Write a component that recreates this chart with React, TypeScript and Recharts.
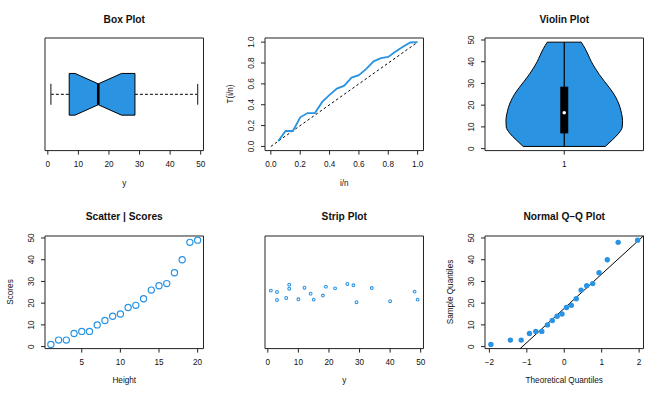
import {
  ComposedChart,
  ScatterChart,
  Scatter,
  Area,
  Line,
  XAxis,
  YAxis,
  ReferenceLine,
  ReferenceArea,
  ReferenceDot,
} from "recharts";

// sample of 20 scores (sorted), shared by every panel
const heights = [1, 2, 3, 4, 5, 6, 7, 8, 9, 10, 11, 12, 13, 14, 15, 16, 17, 18, 19, 20];
const scores = [1, 3, 3, 6, 7, 7, 10, 12, 14, 15, 18, 19, 22, 26, 28, 29, 34, 40, 48, 49];

// box plot: min, lower hinge, median, upper hinge, max + notch ends
const boxFive = [1, 7, 16.5, 28.5, 49];
const boxNotch = [8.9, 24.1];

// scaled TTT curve
const tttX = [0.05, 0.1, 0.15, 0.2, 0.25, 0.3, 0.35, 0.4, 0.45, 0.5, 0.55, 0.6, 0.65, 0.7, 0.75, 0.8, 0.85, 0.9, 0.95, 1.0];
const tttY = [0.051, 0.148, 0.148, 0.279, 0.32, 0.32, 0.427, 0.494, 0.555, 0.583, 0.66, 0.683, 0.744, 0.816, 0.847, 0.859, 0.91, 0.957, 0.997, 1.0];

// violin density (half width around x = 1)
const violinY = [1, 4, 7, 10, 13, 16, 19, 22, 25, 28, 31, 34, 37, 40, 43, 46, 49];
const violinHalf = [0.259, 0.303, 0.343, 0.366, 0.368, 0.362, 0.352, 0.336, 0.314, 0.285, 0.253, 0.222, 0.195, 0.171, 0.152, 0.132, 0.107];

// strip plot vertical jitter
const stripJitter = [0.515, 0.503, 0.432, 0.45, 0.568, 0.532, 0.438, 0.541, 0.488, 0.435, 0.471, 0.55, 0.535, 0.574, 0.562, 0.412, 0.538, 0.421, 0.506, 0.435];

// normal quantiles and qqline (intercept, slope)
const qqTheoretical = [-1.96, -1.44, -1.15, -0.93, -0.76, -0.6, -0.45, -0.32, -0.19, -0.06, 0.06, 0.19, 0.32, 0.45, 0.6, 0.76, 0.93, 1.15, 1.44, 1.96];
const qqLine = [17.625, 15.75];

const ticks50 = [0, 10, 20, 30, 40, 50];
const ticksUnit = [0, 0.2, 0.4, 0.6, 0.8, 1];
const ticksHeight = [5, 10, 15, 20];
const ticksQQ = [-2, -1, 0, 1, 2];

const BLUE = "#2a93e2";
const INK = "#222";
const FONT = '"Liberation Sans", Arial, Helvetica, sans-serif';

const COLS = [45, 265, 485];
const ROWS = [38, 235.7];
const FW = 158.5;
const FH = 112.6;
const ML = 45;
const MT = 38;
const MR = 12;
const MB = 40;
const CW = ML + FW + MR;
const CH = MT + FH + MB;

const D50: [number, number] = [-0.92, 50.92];

const scatterData = heights.map((x, i) => ({ x, y: scores[i] }));
const stripData = scores.map((x, i) => ({ x, y: stripJitter[i] }));
const qqData = qqTheoretical.map((x, i) => ({ x, y: scores[i] }));
const tttData = tttX.map((x, i) => ({ x, y: tttY[i] }));
const violinData = violinY.map((y, i) => ({ y, band: [1 - violinHalf[i], 1 + violinHalf[i]] }));
const BOX_HALF = 0.2;
const boxData = [
  { x: boxFive[1], band: [1 - BOX_HALF, 1 + BOX_HALF] },
  { x: boxNotch[0], band: [1 - BOX_HALF, 1 + BOX_HALF] },
  { x: boxFive[2], band: [1 - BOX_HALF / 2, 1 + BOX_HALF / 2] },
  { x: boxNotch[1], band: [1 - BOX_HALF, 1 + BOX_HALF] },
  { x: boxFive[3], band: [1 - BOX_HALF, 1 + BOX_HALF] },
];

const fmtMinus = (v: number) => (v < 0 ? "\u2212" + Math.abs(v) : String(v));

const tickStyle = { fontSize: 8.2, fill: "#111", fontFamily: FONT };

const xAxisBase = {
  type: "number" as const,
  allowDataOverflow: true,
  axisLine: false,
  tickLine: { stroke: INK },
  tickSize: 4,
  tickMargin: 7,
  height: MB,
  interval: 0 as const,
  tick: tickStyle,
};

function RotTick(props: any) {
  const { x, y, payload, fmt } = props;
  const label = fmt ? fmt(payload.value) : String(payload.value);
  return (
    <text
      x={x}
      y={y}
      transform={`rotate(-90 ${x} ${y})`}
      textAnchor="middle"
      fontSize={8.2}
      fill="#111"
      fontFamily={FONT}
    >
      {label}
    </text>
  );
}

const yAxisBase = {
  type: "number" as const,
  allowDataOverflow: true,
  axisLine: false,
  tickLine: { stroke: INK },
  tickSize: 4,
  tickMargin: 7,
  width: ML,
  interval: 0 as const,
};

function frame(xd: number[], yd: number[]) {
  return (
    <ReferenceArea
      x1={xd[0]}
      x2={xd[1]}
      y1={yd[0]}
      y2={yd[1]}
      fill="none"
      stroke={INK}
      strokeWidth={1}
      ifOverflow="visible"
    />
  );
}

function Text({ x, y, children, bold, size, rotate }: any) {
  return (
    <div
      style={{
        position: "absolute",
        left: x,
        top: y,
        transform: `translate(-50%, -50%)${rotate ? " rotate(-90deg)" : ""}`,
        whiteSpace: "nowrap",
        fontFamily: FONT,
        fontSize: size ?? 8.2,
        fontWeight: bold ? 700 : 400,
        lineHeight: 1,
        color: "#111",
      }}
    >
      {children}
    </div>
  );
}

function place(c: number, r: number): React.CSSProperties {
  return { position: "absolute", left: COLS[c] - ML, top: ROWS[r] - MT };
}

const titleY = (r: number) => ROWS[r] - 18.5;
const xLabY = (r: number) => ROWS[r] + FH + 33;
const midX = (c: number) => COLS[c] + FW / 2;
const yLabX = (c: number) => COLS[c] - 34.5;
const midY = (r: number) => ROWS[r] + FH / 2;

const qqXD: [number, number] = [-2.117, 2.117];
const qqP1 = { x: (D50[0] - qqLine[0]) / qqLine[1], y: D50[0] };
const qqP2 = { x: (D50[1] - qqLine[0]) / qqLine[1], y: D50[1] };

export default function App() {
  return (
    <div style={{ position: "absolute", left: 0, top: 0, width: 657, height: 397, background: "#fff", overflow: "hidden" }}>
      {/* Box plot */}
      <div style={place(0, 0)}>
        <ComposedChart width={CW} height={CH} data={boxData} margin={{ top: MT, right: MR, bottom: 0, left: ML }}>
          <XAxis {...xAxisBase} dataKey="x" domain={D50} ticks={ticks50} />
          <YAxis type="number" hide domain={[0.46, 1.54]} allowDataOverflow />
          <Area type="linear" dataKey="band" fill={BLUE} fillOpacity={1} stroke="#000" strokeWidth={1} isAnimationActive={false} dot={false} activeDot={false} />
          <ReferenceLine segment={[{ x: boxFive[0], y: 1 }, { x: boxFive[1], y: 1 }]} stroke="#000" strokeDasharray="3 2" />
          <ReferenceLine segment={[{ x: boxFive[3], y: 1 }, { x: boxFive[4], y: 1 }]} stroke="#000" strokeDasharray="3 2" />
          <ReferenceLine segment={[{ x: boxFive[0], y: 1 - BOX_HALF / 2 }, { x: boxFive[0], y: 1 + BOX_HALF / 2 }]} stroke="#444" strokeWidth={1.3} />
          <ReferenceLine segment={[{ x: boxFive[4], y: 1 - BOX_HALF / 2 }, { x: boxFive[4], y: 1 + BOX_HALF / 2 }]} stroke="#444" strokeWidth={1.3} />
          <ReferenceLine segment={[{ x: boxFive[1], y: 1 - BOX_HALF }, { x: boxFive[1], y: 1 + BOX_HALF }]} stroke="#000" />
          <ReferenceLine segment={[{ x: boxFive[3], y: 1 - BOX_HALF }, { x: boxFive[3], y: 1 + BOX_HALF }]} stroke="#000" />
          <ReferenceLine segment={[{ x: boxFive[2], y: 1 - BOX_HALF / 2 }, { x: boxFive[2], y: 1 + BOX_HALF / 2 }]} stroke="#000" strokeWidth={2.6} />
          {frame(D50, [0.46, 1.54])}
        </ComposedChart>
      </div>

      {/* TTT plot */}
      <div style={place(1, 0)}>
        <ComposedChart width={CW} height={CH} data={tttData} margin={{ top: MT, right: MR, bottom: 0, left: 0 }}>
          <XAxis {...xAxisBase} dataKey="x" domain={[-0.04, 1.04]} ticks={ticksUnit} tickFormatter={(v: number) => v.toFixed(1)} />
          <YAxis {...yAxisBase} dataKey="y" domain={[-0.04, 1.04]} ticks={ticksUnit} tick={<RotTick fmt={(v: number) => v.toFixed(1)} />} />
          <ReferenceLine segment={[{ x: 0, y: 0 }, { x: 1, y: 1 }]} stroke="#000" strokeDasharray="2.5 2.5" />
          <Line type="linear" dataKey="y" stroke={BLUE} strokeWidth={1.8} dot={false} activeDot={false} isAnimationActive={false} />
          {frame([-0.04, 1.04], [-0.04, 1.04])}
        </ComposedChart>
      </div>

      {/* Violin plot */}
      <div style={place(2, 0)}>
        <ComposedChart layout="vertical" width={CW} height={CH} data={violinData} margin={{ top: MT, right: MR, bottom: 0, left: 0 }}>
          <XAxis {...xAxisBase} domain={[0.5, 1.5]} ticks={[1]} />
          <YAxis {...yAxisBase} reversed dataKey="y" domain={D50} ticks={ticks50} tick={<RotTick />} />
          <Area type="monotone" dataKey="band" fill={BLUE} fillOpacity={1} stroke="#000" strokeWidth={1} isAnimationActive={false} dot={false} activeDot={false} />
          <ReferenceLine segment={[{ x: 1 - violinHalf[0], y: violinY[0] }, { x: 1 + violinHalf[0], y: violinY[0] }]} stroke="#000" />
          <ReferenceLine segment={[{ x: 1 - violinHalf[violinHalf.length - 1], y: violinY[violinY.length - 1] }, { x: 1 + violinHalf[violinHalf.length - 1], y: violinY[violinY.length - 1] }]} stroke="#000" />
          <ReferenceLine segment={[{ x: 1, y: boxFive[0] }, { x: 1, y: boxFive[4] }]} stroke="#000" strokeWidth={1.2} />
          <ReferenceLine segment={[{ x: 1, y: boxFive[1] }, { x: 1, y: boxFive[3] }]} stroke="#000" strokeWidth={8} />
          <ReferenceDot x={1} y={boxFive[2]} r={1.8} fill="#fff" stroke="none" />
          {frame([0.5, 1.5], D50)}
        </ComposedChart>
      </div>

      {/* Scatter */}
      <div style={place(0, 1)}>
        <ScatterChart width={CW} height={CH} margin={{ top: MT, right: MR, bottom: 0, left: 0 }}>
          <XAxis {...xAxisBase} dataKey="x" domain={[0.24, 20.76]} ticks={ticksHeight} />
          <YAxis {...yAxisBase} dataKey="y" domain={D50} ticks={ticks50} tick={<RotTick />} />
          <Scatter
            data={scatterData}
            isAnimationActive={false}
            shape={(p: any) => <circle cx={p.cx} cy={p.cy} r={3.1} fill="none" stroke={BLUE} strokeWidth={1.2} />}
          />
          {frame([0.24, 20.76], D50)}
        </ScatterChart>
      </div>

      {/* Strip plot */}
      <div style={place(1, 1)}>
        <ScatterChart width={CW} height={CH} margin={{ top: MT, right: MR, bottom: 0, left: ML }}>
          <XAxis {...xAxisBase} dataKey="x" domain={D50} ticks={ticks50} />
          <YAxis type="number" dataKey="y" hide domain={[0, 1]} allowDataOverflow />
          <Scatter
            data={stripData}
            isAnimationActive={false}
            shape={(p: any) => <circle cx={p.cx} cy={p.cy} r={1.4} fill="#fff" stroke={BLUE} strokeWidth={1.1} />}
          />
          {frame(D50, [0, 1])}
        </ScatterChart>
      </div>

      {/* Normal Q-Q */}
      <div style={place(2, 1)}>
        <ScatterChart width={CW} height={CH} margin={{ top: MT, right: MR, bottom: 0, left: 0 }}>
          <XAxis {...xAxisBase} dataKey="x" domain={qqXD} ticks={ticksQQ} tickFormatter={fmtMinus} />
          <YAxis {...yAxisBase} dataKey="y" domain={D50} ticks={ticks50} tick={<RotTick />} />
          <Scatter
            data={qqData}
            isAnimationActive={false}
            shape={(p: any) => <circle cx={p.cx} cy={p.cy} r={2.7} fill={BLUE} stroke="none" />}
          />
          <ReferenceLine segment={[qqP1, qqP2]} stroke="#000" strokeWidth={1} ifOverflow="visible" />
          {frame(qqXD, D50)}
        </ScatterChart>
      </div>

      {/* titles and axis labels */}
      <Text x={midX(0)} y={titleY(0)} bold size={10.2}>Box Plot</Text>
      <Text x={midX(2)} y={titleY(0)} bold size={10.2}>Violin Plot</Text>
      <Text x={midX(0)} y={titleY(1)} bold size={10.2}>Scatter | Scores</Text>
      <Text x={midX(1)} y={titleY(1)} bold size={10.2}>Strip Plot</Text>
      <Text x={midX(2)} y={titleY(1)} bold size={10.2}>Normal Q–Q Plot</Text>

      <Text x={midX(0)} y={xLabY(0)}>y</Text>
      <Text x={midX(1)} y={xLabY(0)}>i/n</Text>
      <Text x={midX(0)} y={xLabY(1)}>Height</Text>
      <Text x={midX(1)} y={xLabY(1)}>y</Text>
      <Text x={midX(2)} y={xLabY(1)}>Theoretical Quantiles</Text>

      <Text x={yLabX(1)} y={midY(0)} rotate>T(i/n)</Text>
      <Text x={yLabX(0)} y={midY(1)} rotate>Scores</Text>
      <Text x={yLabX(2)} y={midY(1)} rotate>Sample Quantiles</Text>
    </div>
  );
}
